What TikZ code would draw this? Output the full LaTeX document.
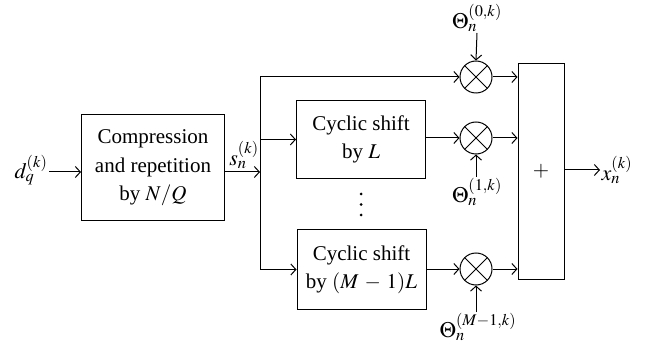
\documentclass[tikz,border=0pt]{standalone}
\usepackage{mathptmx}
\usepackage{fontspec}
\setmainfont{Liberation Serif}
\usetikzlibrary{arrows.meta}
\begin{document}
\begin{tikzpicture}[x=1pt,y=-1pt,
  font=\fontsize{21}{28.5}\selectfont,
  line width=1pt,
  >={Straight Barb[length=5pt,width=11pt]},
  box/.style={draw, align=center, inner sep=0pt},
  mult/.style={draw, circle, minimum size=32pt, inner sep=0pt,
    path picture={\draw (path picture bounding box.north west) -- (path picture bounding box.south east)
      (path picture bounding box.north east) -- (path picture bounding box.south west);}},
  lbl/.style={inner sep=1pt},
  dot/.style={circle, fill, inner sep=0pt, minimum size=3pt}]
\useasboundingbox (0,0) rectangle (647,347);
% blocks
\node[box, minimum width=143pt, minimum height=106pt] (comp) at (153,168) {Compression\\and repetition\\by $N/Q$};
\node[box, minimum width=129pt, minimum height=78pt] (cs1) at (361,139.5) {Cyclic shift\\by $L$};
\node[box, minimum width=129pt, minimum height=79pt] (cs2) at (361.5,269.5) {Cyclic shift\\by $(M\:-\:1)L$};
\node[box, minimum width=46pt, minimum height=215pt] (sum) at (541,171.5) {$+$};
\node[dot] (d1) at (361,194) {};
\node[dot] (d2) at (361,204.5) {};
\node[dot] (d3) at (361,215) {};
% multipliers
\node[mult] (m0) at (476,77) {};
\node[mult] (m1) at (476,138) {};
\node[mult] (m2) at (476,269) {};
% labels
\node[lbl, anchor=east, scale=1.05] (dq) at (49,170) {$d_q^{(k)}$};
\node[lbl, scale=1.05] (sn) at (244,155) {$s_n^{(k)}$};
\node[lbl, anchor=west, scale=1.05] (xo) at (600,170) {$x_n^{(k)}$};
\node[lbl, anchor=south, scale=1.05] (t0) at (477,33) {$\Theta_n^{(0,k)}$};
\node[lbl, anchor=north, scale=1.05] (t1) at (477,177) {$\Theta_n^{(1,k)}$};
\node[lbl, anchor=north, scale=1.05] (t2) at (478,312) {$\Theta_n^{(M-1,k)}$};
\coordinate (j) at (260,172);
% connectors
\draw[->] (dq.east |- j) -- (comp.west |- j);
\draw[->] (comp.east |- j) -- (j);
\draw[->] (j) |- (m0.west);
\draw[->] (j) |- (cs1.west);
\draw[->] (j) |- (cs2.west);
\draw[->] (cs1.east |- m1) -- (m1.west);
\draw[->] (cs2.east |- m2) -- (m2.west);
\draw[->] (m0.east) -- (m0.east -| sum.west);
\draw[->] (m1.east) -- (m1.east -| sum.west);
\draw[->] (m2.east) -- (m2.east -| sum.west);
\draw[->] (t0.south) -- (m0.north);
\draw[->] (t1.north -| m1) -- (m1.south);
\draw[->] (t2.north -| m2) -- (m2.south);
\draw[->] (sum.east |- xo.west) -- (xo.west);
\end{tikzpicture}
\end{document}
